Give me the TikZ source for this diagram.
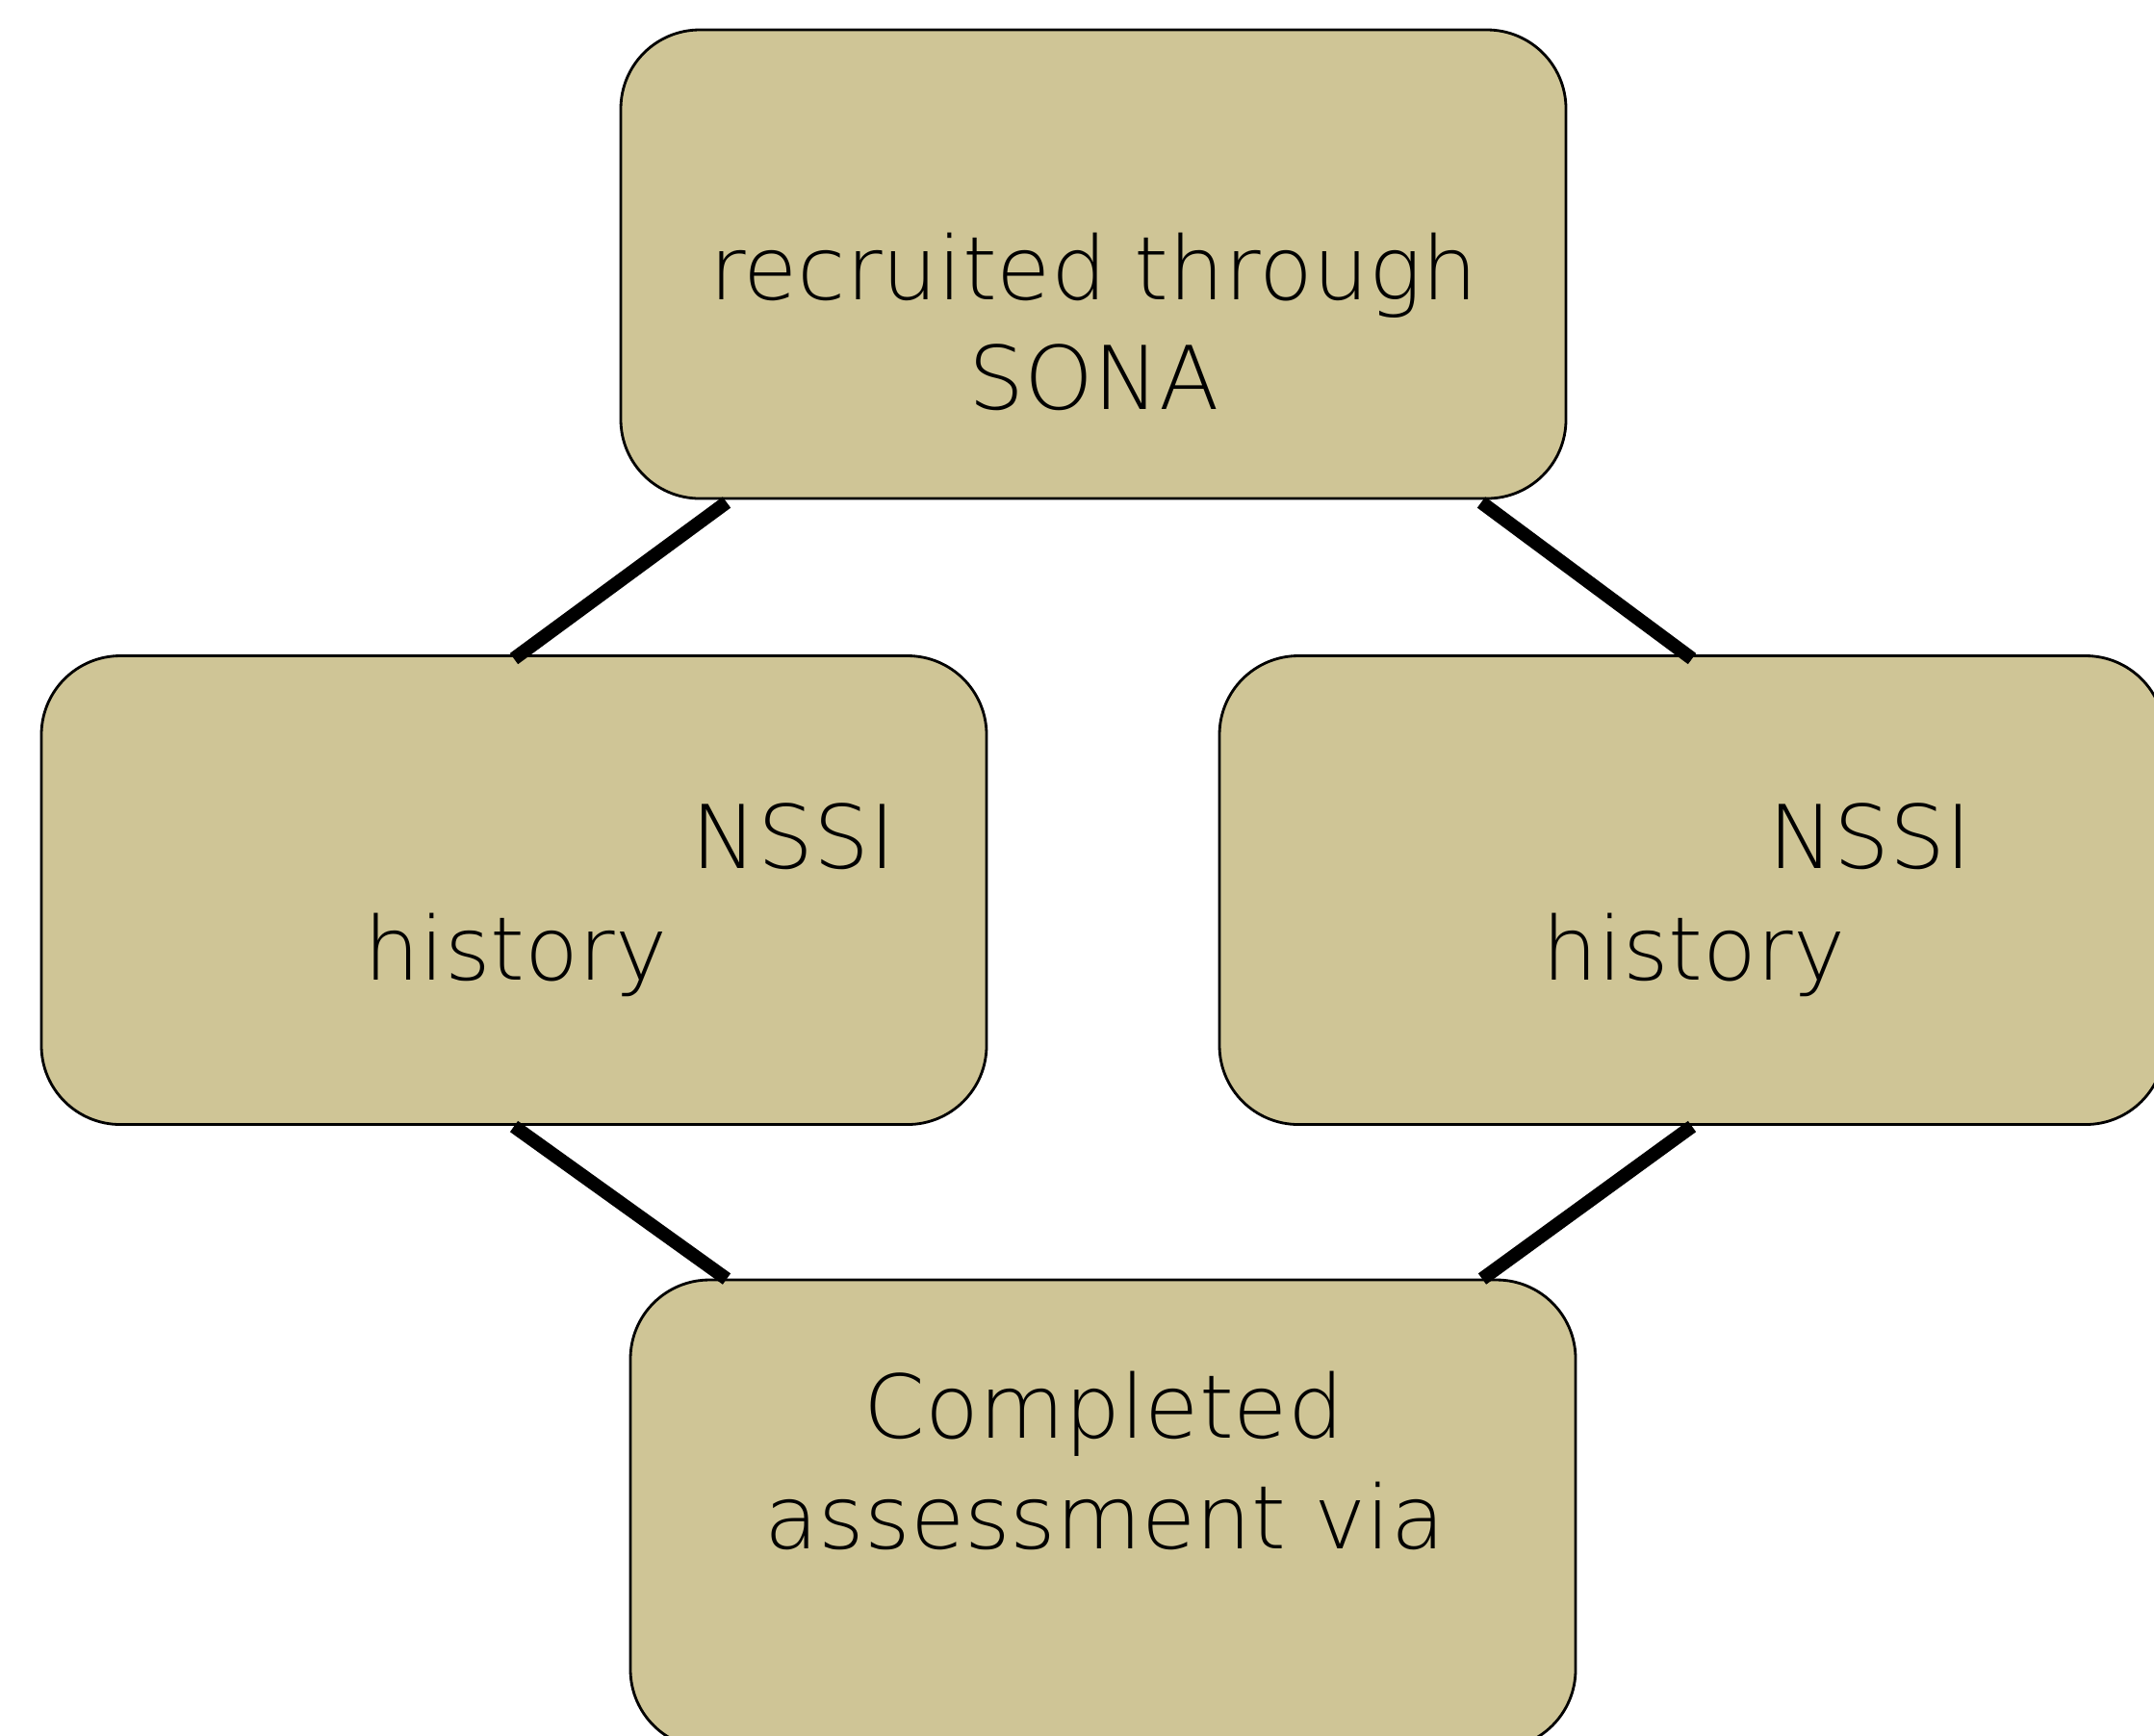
\documentclass[tikz,border=0pt]{standalone}
\usepackage{fontspec}
\setmainfont{DejaVu Sans}
\newfontfamily\thinfont{DejaVu Sans ExtraLight}
\usepackage{xcolor}
\usepackage{tikz}
\usetikzlibrary{positioning}

\definecolor{boxtan}{RGB}{207,197,150}

\tikzset{
	stage/.style={rectangle, rounded corners=0.82cm, draw=black, line width=0.8pt, fill=boxtan, minimum width=9.82cm, minimum height=4.87cm, inner sep=0pt, outer sep=0pt},
	txt/.style={anchor=base, inner sep=0pt, font=\thinfont\fontsize{26}{32}\selectfont},
	link/.style={line width=4pt}
}

\begin{document}
\begin{tikzpicture}
		\useasboundingbox (0,0) rectangle (22.38,-18.03);
		\begin{scope}
		\clip (0,0) rectangle (22.38,-18.03);
		% Boxes
		\node [stage] (sona) at (11.36,-2.745) {};
		\node [stage] (nssil) at (5.34,-9.25) {};
		\node [stage] (nssir) at (17.58,-9.25) {};
		\node [stage] (assess) at (11.46,-15.735) {};
		
		% Texts
		\node [txt] (sonaa) at (11.36,-3.11) {recruited through};
		\node [txt] (sonab) at (11.37,-4.25) {SONA};
		\node [txt] (nssila) at (8.245,-9.02) {NSSI};
		\node [txt] (nssilb) at (5.36,-10.18) {history};
		\node [txt] (nssira) at (19.43,-9.02) {NSSI};
		\node [txt] (nssirb) at (17.60,-10.18) {history};
		\node [txt] (assessa) at (11.47,-14.94) {Completed};
		\node [txt] (assessb) at (11.48,-16.09) {assessment via};
		
		% Lines
		\draw [link] ([xshift=1.1cm,yshift=-0.04cm]sona.south west) -- ([yshift=-0.03cm]nssil.north);
		\draw [link] ([xshift=-0.88cm,yshift=-0.04cm]sona.south east) -- ([yshift=-0.03cm]nssir.north);
		\draw [link] ([yshift=-0.02cm]nssil.south) -- ([xshift=1.0cm,yshift=0.01cm]assess.north west);
		\draw [link] ([yshift=-0.02cm]nssir.south) -- ([xshift=-0.97cm,yshift=0.01cm]assess.north east);
		\end{scope}
	\end{tikzpicture}
\end{document}
